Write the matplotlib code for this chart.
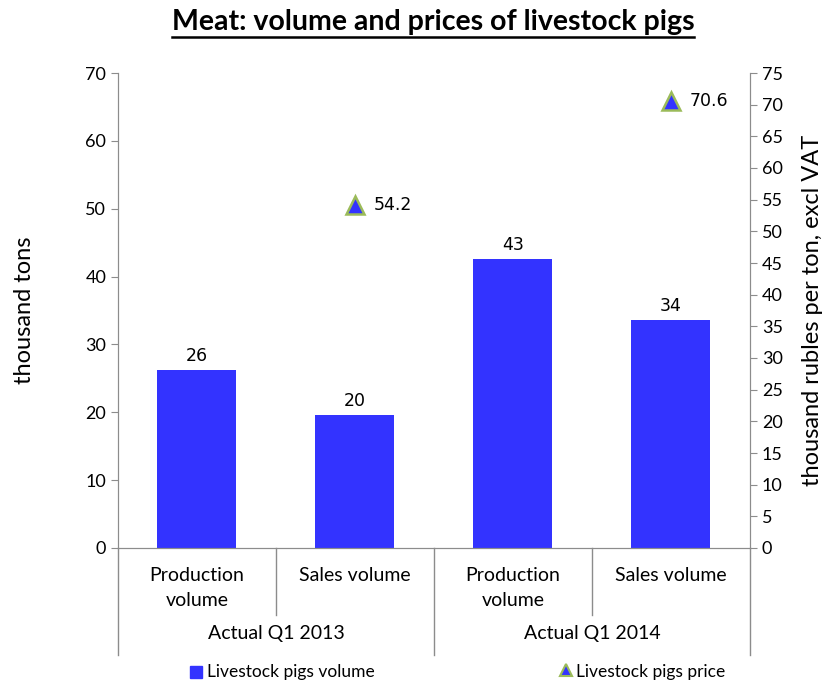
import numpy as np
import matplotlib
matplotlib.use("Agg")
import matplotlib.pyplot as plt
from matplotlib.lines import Line2D

# chart data
categories = ["Production\nvolume", "Sales volume", "Production\nvolume", "Sales volume"]
groups = ["Actual Q1 2013", "Actual Q1 2014"]
volume = [26.2, 19.6, 42.6, 33.6]
volume_labels = ["26", "20", "43", "34"]
price_pos = [1, 3]
price = [54.2, 70.6]

bar_color = "#3333ff"
edge_green = "#9bbb59"
grey = "#8c8c8c"
plt.rcParams["font.family"] = ["Lato", "DejaVu Sans"]

fig = plt.figure(figsize=(8.29, 6.83), dpi=100)
ax = fig.add_axes([118 / 829, 135 / 683, 632 / 829, 475 / 683])
x = np.arange(len(categories))
ax.bar(x, volume, width=0.5, color=bar_color, zorder=2)
for xi, v, lab in zip(x, volume, volume_labels):
    ax.text(xi, v + 0.8, lab, ha="center", va="bottom", fontsize=12.5,
            family="DejaVu Sans")

ax.set_xlim(-0.5, len(categories) - 0.5)
ax.set_ylim(0, 70)
ax.set_yticks(np.arange(0, 71, 10))
ax.set_xticks([])
ax.tick_params(axis="y", labelsize=13, length=5, color=grey, direction="out")
ax.spines["top"].set_visible(False)
for s in ["left", "right", "bottom"]:
    ax.spines[s].set_color(grey)
ax.set_ylabel("thousand tons", fontsize=17, labelpad=36)

ax2 = ax.twinx()
ax2.set_ylim(0, 75)
ax2.set_yticks(np.arange(0, 76, 5))
ax2.tick_params(axis="y", labelsize=13, length=5, color=grey, direction="out")
ax2.spines["top"].set_visible(False)
for s in ["left", "right", "bottom"]:
    ax2.spines[s].set_color(grey)
ax2.plot(price_pos, price, linestyle="none", marker="^", markersize=13,
         markerfacecolor=bar_color, markeredgecolor=edge_green, markeredgewidth=1.8,
         zorder=3)
for xi, p in zip(price_pos, price):
    ax2.text(xi + 0.12, p, f"{p}", ha="left", va="center", fontsize=12.5,
             family="DejaVu Sans")
ax2.set_ylabel("thousand rubles per ton, excl VAT", fontsize=17, labelpad=14)

# two-level category axis below the plot
tr = ax.get_xaxis_transform()
for b in [0.5, 2.5]:
    ax.add_line(Line2D([b, b], [0, -0.14], transform=tr, color=grey, lw=1,
                       clip_on=False))
for b in [-0.5, 1.5, 3.5]:
    ax.add_line(Line2D([b, b], [0, -0.225], transform=tr, color=grey, lw=1,
                       clip_on=False))
for xi, c in zip(x, categories):
    ax.text(xi, -0.041, c, transform=tr, ha="center", va="top", fontsize=14,
            linespacing=1.55)
for gi, g in enumerate(groups):
    ax.text(gi * 2 + 0.5, -0.18, g, transform=tr, ha="center", va="center",
            fontsize=14)

# title with underline
title = fig.text(433 / 829, 1 - 22 / 683, "Meat: volume and prices of livestock pigs",
                 ha="center", va="center", fontsize=20.5, fontweight="bold")
fig.canvas.draw()
bb = title.get_window_extent().transformed(fig.transFigure.inverted())
fig.add_artist(Line2D([bb.x0, bb.x1], [bb.y0 - 0.003, bb.y0 - 0.003],
                      transform=fig.transFigure, color="black", lw=1.8))

# legend
fig.add_artist(Line2D([196 / 829], [1 - 672 / 683], transform=fig.transFigure,
                      marker="s", markersize=9, color=bar_color, linestyle="none"))
fig.text(207 / 829, 1 - 672 / 683, "Livestock pigs volume", fontsize=12.5,
         va="center", ha="left")
fig.add_artist(Line2D([566 / 829], [1 - 670 / 683], transform=fig.transFigure,
                      marker="^", markersize=9, markerfacecolor=bar_color,
                      markeredgecolor=edge_green, markeredgewidth=1.5,
                      linestyle="none"))
fig.text(576 / 829, 1 - 672 / 683, "Livestock pigs price", fontsize=12.5,
         va="center", ha="left")

fig.savefig("out.png", dpi=100)
